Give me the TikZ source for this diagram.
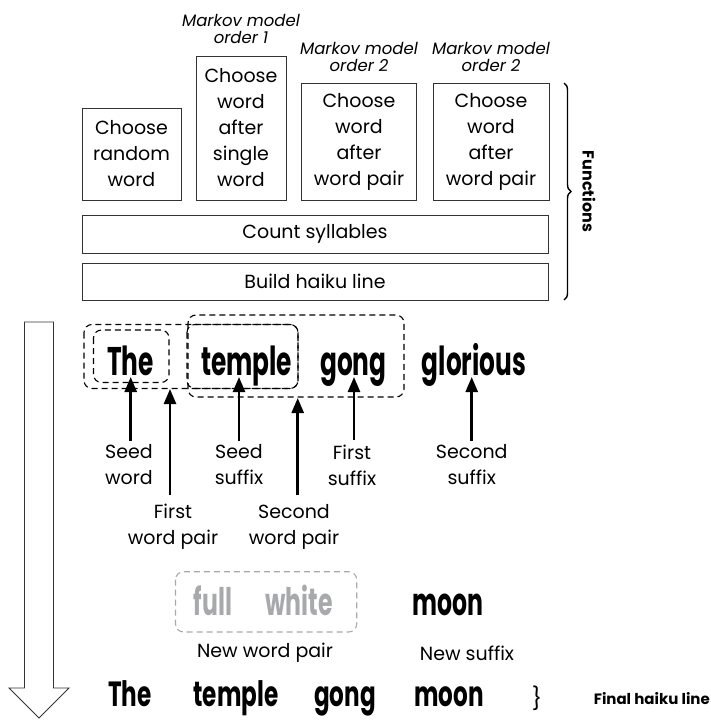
\documentclass[tikz,border=0pt]{standalone}
\usepackage{fontspec}
\setmainfont{Poppins}
\usepackage{graphicx}
\usetikzlibrary{arrows.meta,decorations.pathreplacing}
\definecolor{ln}{HTML}{333333}
\definecolor{gry}{HTML}{A7A9AC}
\newcommand\bw[1]{\scalebox{0.62}[1]{\fontsize{40}{40}\selectfont\bfseries #1}}
\newcommand\bwg[1]{\scalebox{0.62}[1]{\fontsize{38}{38}\selectfont\bfseries #1}}
\newcommand\bwf[1]{\scalebox{0.66}[1]{\fontsize{35}{35}\selectfont\bfseries #1}}
\tikzset{
  fbox/.style={draw=ln, line width=0.9pt, align=center, inner sep=0pt,
    font=\fontsize{19}{26}\selectfont},
  lbl/.style={align=center, inner sep=0pt, font=\fontsize{19}{26}\selectfont},
  mk/.style={align=center, inner sep=0pt, font=\fontsize{16.5}{17.5}\selectfont\itshape},
  word/.style={inner sep=0pt, anchor=base},
  dbox/.style={draw=black, line width=1.1pt, dash pattern=on 6pt off 4pt, rounded corners=8pt},
  gbox/.style={draw=gry, line width=1.1pt, dash pattern=on 6pt off 4pt, rounded corners=8pt},
  arr/.style={line width=2.6pt, -{Triangle[width=12pt,length=15pt]}},
}
\begin{document}
\begin{tikzpicture}[x=1pt,y=-1pt]
\useasboundingbox (0,0) rectangle (711,720);
% function boxes
\node[fbox, minimum width=99pt, minimum height=92pt] (b1) at (131.5,154) {Choose\\random\\word};
\node[fbox, minimum width=90pt, minimum height=144pt] (b2) at (241,128) {Choose\\word\\after\\single\\word};
\node[fbox, minimum width=115pt, minimum height=117pt] (b3) at (359,141.5) {Choose\\word\\after\\word pair};
\node[fbox, minimum width=116pt, minimum height=117pt] (b4) at (491,141.5) {Choose\\word\\after\\word pair};
\node[fbox, minimum width=466pt, minimum height=38pt] (cs) at (315,234) {Count syllables};
\node[fbox, minimum width=466pt, minimum height=37pt] (bh) at (315,281.5) {Build haiku line};
% Markov labels
\node[mk] (m1) at (241,29) {Markov model\\order 1};
\node[mk] (m2) at (359,57) {Markov model\\order 2};
\node[mk] (m3) at (491,57) {Markov model\\order 2};
% functions brace
\draw[line width=1.4pt, decorate, decoration={brace, amplitude=7pt}] (564,83) -- (564,300);
\node[rotate=-90, inner sep=0pt, font=\fontsize{16}{16}\selectfont\bfseries] (fn) at (589,191.5) {Functions};
% big hollow arrow
\draw[line width=0.9pt, draw=ln] (24.5,322) -- (53.5,322) -- (53.5,688) -- (69,688) -- (39,718) -- (9,688) -- (24.5,688) -- cycle;
% first row words
\node[word] (w1) at (130.5,375) {\bw{The}};
\node[word] (w2) at (246.7,375) {\bw{temple}};
\node[word] (w3) at (353.3,375) {\bw{gong}};
\node[word] (w4) at (474,375) {\bw{glorious}};
% dashed groups
\draw[dbox] (84,324.5) rectangle (298,388.5);
\draw[dbox] (93.5,330) rectangle (169,382.5);
\draw[dbox] (187,324.5) rectangle (298,388.5);
\draw[dbox] (188,315) rectangle (404,397);
% labels
\node[lbl] (l1) at (129,465) {Seed\\word};
\node[lbl] (l2) at (173,527) {First\\word pair};
\node[lbl] (l3) at (239,465) {Seed\\suffix};
\node[lbl] (l4) at (294,527) {Second\\word pair};
\node[lbl] (l5) at (352,465) {First\\suffix};
\node[lbl] (l6) at (471.7,465) {Second\\suffix};
% arrow targets
\coordinate (t1) at (130.7,377);
\coordinate (t2) at (170,389);
\coordinate (t3) at (239,377);
\coordinate (t4) at (297.7,398);
\coordinate (t5) at (354,377);
\coordinate (t6) at (471.7,377);
\draw[arr] (l1.north -| t1) ++(0,-4) -- (t1);
\draw[arr] (l2.north -| t2) ++(0,-9) -- (t2);
\draw[arr] (l3.north -| t3) ++(0,-4) -- (t3);
\draw[arr] (l4.north -| t4) ++(0,-9) -- (t4);
\draw[arr] (l5.north -| t5) ++(0,-4) -- (t5);
\draw[arr] (l6.north -| t6) ++(0,-4) -- (t6);
% new word pair
\node[word, text=gry] (n1) at (213,615) {\bwg{full}};
\node[word, text=gry] (n2) at (299,615) {\bwg{white}};
\node[word] (n3) at (448,615) {\bwg{moon}};
\draw[gbox] (175.5,571.7) rectangle (356.7,632);
\node[lbl] (nl1) at (265,653) {New word pair};
\node[lbl] (nl2) at (467,653) {New suffix};
% final line
\node[word] (f1) at (130,706) {\bwf{The}};
\node[word] (f2) at (236,706) {\bwf{temple}};
\node[word] (f3) at (345,706) {\bwf{gong}};
\node[word] (f4) at (449,706) {\bwf{moon}};
\node[inner sep=0pt, font=\fontsize{22}{22}\selectfont] (fb) at (537,698) {\}};
\node[anchor=base east, inner sep=0pt, font=\fontsize{15}{15}\selectfont\bfseries] (fl) at (710,704) {Final haiku line};
\end{tikzpicture}
\end{document}
